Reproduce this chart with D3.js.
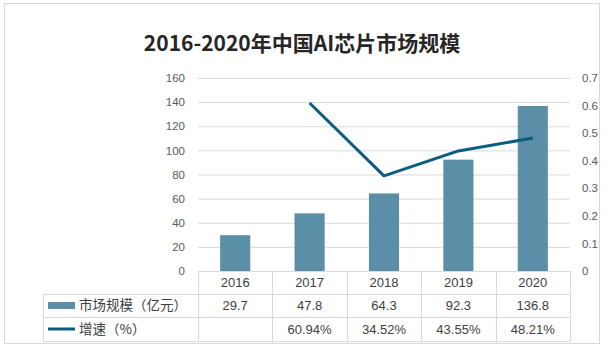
<!DOCTYPE html>
<html><head><meta charset="utf-8">
<script src="https://cdn.jsdelivr.net/npm/d3@7"></script>
<style>
html,body{margin:0;padding:0;background:#fff;}
text{font-family:"Liberation Sans","Noto Sans CJK SC",sans-serif;}
</style></head>
<body><svg id="c" width="605" height="350"></svg>
<script>
const title = "2016-2020年中国AI芯片市场规模";
const years = ["2016","2017","2018","2019","2020"];
const marketSize = [29.7, 47.8, 64.3, 92.3, 136.8];
const growth = [null, 0.6094, 0.3452, 0.4355, 0.4821];
const growthLabels = ["", "60.94%", "34.52%", "43.55%", "48.21%"];
const leftTicks = [0,20,40,60,80,100,120,140,160];
const rightTicks = [0,0.1,0.2,0.3,0.4,0.5,0.6,0.7];
const seriesNames = ["市场规模（亿元）", "增速（%）"];

const barColor = "#5b8fa7", lineColor = "#0a5d7f", grid = "#d9d9d9", tickColor = "#595959", textColor = "#404040";
const svg = d3.select("#c");
const L = 198, R = 570, T = 78, B = 271;
const rowH = [271, 294, 317, 341];

svg.append("rect").attr("x",4.5).attr("y",3.5).attr("width",595).attr("height",340)
  .attr("fill","#fff").attr("stroke","#d9d9d9");

svg.append("text").attr("x",302).attr("y",51).attr("text-anchor","middle")
  .attr("font-size",21).attr("font-weight","bold").attr("fill","#262626")
  .style("font-family","'Noto Sans CJK SC',sans-serif").text(title);

const x = d3.scaleBand().domain(years).range([L,R]).paddingInner(0).paddingOuter(0);
const yL = d3.scaleLinear().domain([0,160]).range([B,T]);
const yR = d3.scaleLinear().domain([0,0.7]).range([B,T]);

// gridlines
svg.append("g").selectAll("line").data(leftTicks.slice(1)).join("line")
  .attr("x1",L).attr("x2",R).attr("y1",d=>yL(d)+0.5).attr("y2",d=>yL(d)+0.5)
  .attr("stroke",grid).attr("stroke-width",1);

// left axis
const axL = svg.append("g").attr("transform",`translate(${L},0)`)
  .call(d3.axisLeft(yL).tickValues(leftTicks).tickSize(0).tickPadding(13));
axL.select(".domain").remove();
axL.selectAll("text").attr("fill",tickColor).attr("font-size",11.5).style("font-family","'Liberation Sans',sans-serif");

// right axis
const axR = svg.append("g").attr("transform",`translate(${R},0)`)
  .call(d3.axisRight(yR).tickValues(rightTicks).tickFormat(d=>d===0?"0":d3.format(".1f")(d)).tickSize(0).tickPadding(12));
axR.select(".domain").remove();
axR.selectAll("text").attr("fill",tickColor).attr("font-size",11.5).style("font-family","'Liberation Sans',sans-serif");

// bars
const bw = x.bandwidth()*0.405;
svg.append("g").selectAll("rect").data(marketSize).join("rect")
  .attr("x",(d,i)=>x(years[i])+x.bandwidth()/2-bw/2)
  .attr("width",bw)
  .attr("y",d=>yL(d)).attr("height",d=>B-yL(d))
  .attr("fill",barColor);

// line
const pts = growth.map((g,i)=>({g,i})).filter(p=>p.g!==null);
svg.append("path").datum(pts)
  .attr("d",d3.line().x(p=>x(years[p.i])+x.bandwidth()/2).y(p=>yR(p.g)))
  .attr("fill","none").attr("stroke",lineColor).attr("stroke-width",3).attr("stroke-linejoin","round");

// table
const tg = svg.append("g").attr("stroke",grid).attr("stroke-width",1);
// horizontal lines
tg.append("line").attr("x1",L).attr("x2",R).attr("y1",rowH[0]+0.5).attr("y2",rowH[0]+0.5);
[1,2,3].forEach(k=>{
  tg.append("line").attr("x1",43).attr("x2",R).attr("y1",rowH[k]+0.5).attr("y2",rowH[k]+0.5);
});
// vertical lines
years.forEach(yv=>{
  tg.append("line").attr("x1",Math.round(x(yv))+0.5).attr("x2",Math.round(x(yv))+0.5).attr("y1",rowH[0]).attr("y2",rowH[3]);
});
tg.append("line").attr("x1",R+0.5).attr("x2",R+0.5).attr("y1",rowH[0]).attr("y2",rowH[3]);
tg.append("line").attr("x1",43.5).attr("x2",43.5).attr("y1",rowH[1]).attr("y2",rowH[3]);

const cx = yv => x(yv)+x.bandwidth()/2;
const rowMid = k => (rowH[k]+rowH[k+1])/2;
const cellText = (txt, xx, yy, anchor) => svg.append("text").attr("x",xx).attr("y",yy+4.5)
  .attr("text-anchor",anchor).attr("font-size",13).attr("fill",textColor).text(txt);

years.forEach((yv,i)=>{
  cellText(yv, cx(yv), rowMid(0), "middle");
  cellText(d3.format(".1f")(marketSize[i]), cx(yv), rowMid(1), "middle");
  cellText(growthLabels[i], cx(yv), rowMid(2), "middle");
});

// legend keys
svg.append("rect").attr("x",48).attr("y",rowMid(1)-3.5).attr("width",27).attr("height",7).attr("fill",barColor);
svg.append("line").attr("x1",48).attr("x2",75).attr("y1",rowMid(2)).attr("y2",rowMid(2)).attr("stroke",lineColor).attr("stroke-width",3);
svg.append("text").attr("x",79).attr("y",rowMid(1)+4.5).attr("font-size",13.5).attr("fill",textColor)
  .style("font-family","'Noto Sans CJK SC',sans-serif").text(seriesNames[0]);
svg.append("text").attr("x",79).attr("y",rowMid(2)+4.5).attr("font-size",13.5).attr("fill",textColor)
  .style("font-family","'Noto Sans CJK SC',sans-serif").text(seriesNames[1]);
</script></body></html>
